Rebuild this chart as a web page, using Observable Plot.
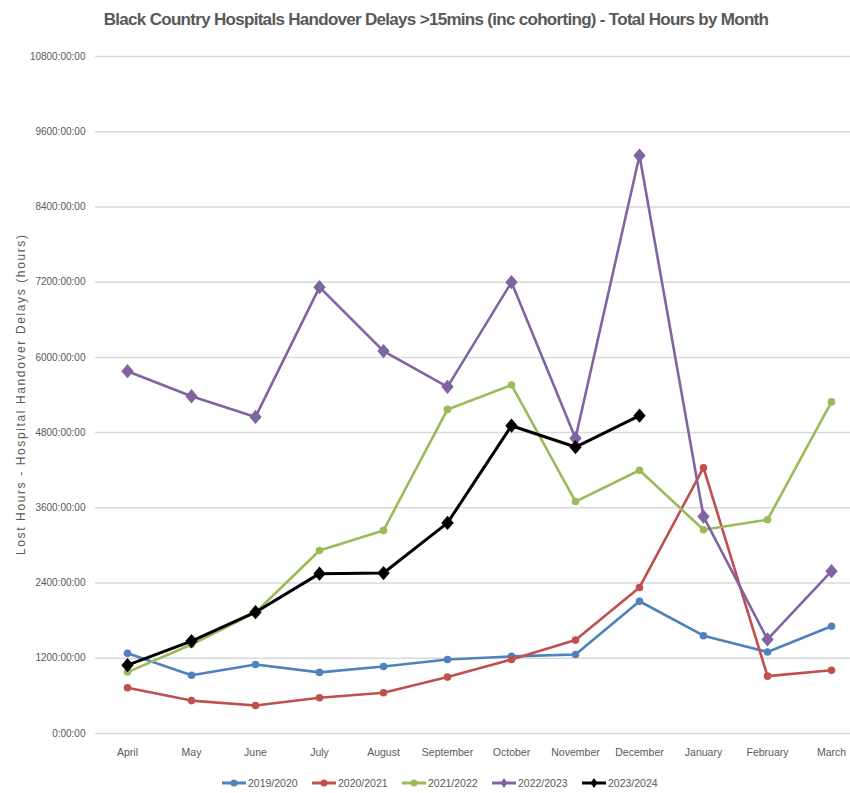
<!DOCTYPE html>
<html>
<head>
<meta charset="utf-8">
<script src="https://cdn.jsdelivr.net/npm/d3@7"></script>
<script src="https://cdn.jsdelivr.net/npm/@observablehq/plot@0.6"></script>
<style>
  html, body { margin: 0; padding: 0; background: #fff; }
  body { width: 850px; height: 793px; overflow: hidden; font-family: "Liberation Sans", Arial, sans-serif; }
  #title { height: 40px; position: relative; }
  #title span { position: absolute; left: 0; width: 872px; text-align: center; top: 10px; font-weight: bold; font-size: 17px; letter-spacing: -0.7px; color: #595959; white-space: nowrap; }
  #legend { height: 20px; position: relative; font-size: 10.5px; color: #595959; }
  #legend .item { position: absolute; top: 4px; display: flex; align-items: center; gap: 2px; height: 12px; }
</style>
</head>
<body>
<div id="title"><span>Black Country Hospitals Handover Delays &gt;15mins (inc cohorting) - Total Hours by Month</span></div>
<div id="chart"></div>
<div id="legend"></div>
<script>
const months = ["April","May","June","July","August","September","October","November","December","January","February","March"];
const yTicks = [0,1200,2400,3600,4800,6000,7200,8400,9600,10800];
const seriesNames = ["2019/2020","2020/2021","2021/2022","2022/2023","2023/2024"];
const s1920 = [1280, 930, 1100, 975, 1070, 1180, 1230, 1260, 2110, 1560, 1300, 1710];
const s2021 = [730, 525, 447, 570, 650, 900, 1180, 1490, 2330, 4240, 915, 1010];
const s2122 = [980, 1420, 1930, 2920, 3240, 5170, 5560, 3700, 4200, 3250, 3410, 5290];
const s2223 = [5780, 5380, 5050, 7120, 6100, 5530, 7200, 4710, 9220, 3460, 1500, 2590];
const s2324 = [1090, 1475, 1935, 2550, 2560, 3360, 4910, 4570, 5070];
const colors = ["#4F81BD","#C0504D","#9BBB59","#8064A2","#000000"];
const symbols = ["circle","circle","circle","diamond","diamond"];
const allValues = [s1920, s2021, s2122, s2223, s2324];

// custom diamond (slightly taller than wide, like the Excel marker)
const excelDiamond = {
  draw(context, size) {
    const r = Math.sqrt(size / Math.PI);
    const w = r * 0.95, h = r * 1.1;
    context.moveTo(0, -h);
    context.lineTo(w, 0);
    context.lineTo(0, h);
    context.lineTo(-w, 0);
    context.closePath();
  }
};

const series = seriesNames.map((name, k) => ({
  name, color: colors[k], symbol: symbols[k],
  rows: allValues[k].map((v, i) => ({month: months[i], value: v}))
}));

const marks = [
  Plot.gridY(yTicks, {stroke: "#d9d9d9", strokeOpacity: 1, strokeWidth: 1.5}),
  Plot.axisY(yTicks, {tickSize: 0, tickPadding: 10, fontSize: 10, fill: "#595959", label: null,
    tickFormat: d => `${d}:00:00`}),
  Plot.axisX({tickSize: 0, tickPadding: 15, fontSize: 10.5, fill: "#595959", label: null}),
  Plot.text(["Lost Hours - Hospital Handover Delays (hours)"], {frameAnchor: "left", text: d => d, rotate: -90, dx: -74, textAnchor: "middle", fontSize: 12, fill: "#595959", className: "ylabel"})
];
for (const s of series) {
  const isDiamond = s.symbol === "diamond";
  marks.push(Plot.line(s.rows, {x: "month", y: "value", stroke: s.color, strokeWidth: s.name === "2023/2024" ? 3 : 2.6}));
  marks.push(Plot.dot(s.rows, {x: "month", y: "value", fill: s.color, stroke: "none", symbol: isDiamond ? excelDiamond : "circle", r: isDiamond ? 6.5 : 3.8}));
}

const chart = Plot.plot({
  width: 850,
  height: 733,
  marginLeft: 95,
  marginRight: 0,
  marginTop: 16,
  marginBottom: 40,
  style: {fontFamily: '"Liberation Sans", Arial, sans-serif', background: "#fff"},
  x: {type: "point", domain: months, range: [127, 831], padding: 0},
  y: {domain: [0, 10800]},
  marks
});
d3.select(chart).selectAll(".ylabel text").attr("textLength", 320).attr("lengthAdjust", "spacing");
document.getElementById("chart").appendChild(chart);

const legend = document.getElementById("legend");
series.forEach((s, k) => {
  const item = document.createElement("div");
  item.className = "item";
  item.style.left = (222 + k * 90) + "px";
  const sym = s.symbol === "diamond"
    ? `<path d="M12,1 L15.5,6 L12,11 L8.5,6 Z" fill="${s.color}"/>`
    : `<circle cx="12" cy="6" r="3.5" fill="${s.color}"/>`;
  item.innerHTML = `<svg width="24" height="12"><line x1="0" x2="24" y1="6" y2="6" stroke="${s.color}" stroke-width="3"/>${sym}</svg><span>${s.name}</span>`;
  legend.appendChild(item);
});
</script>
</body>
</html>
